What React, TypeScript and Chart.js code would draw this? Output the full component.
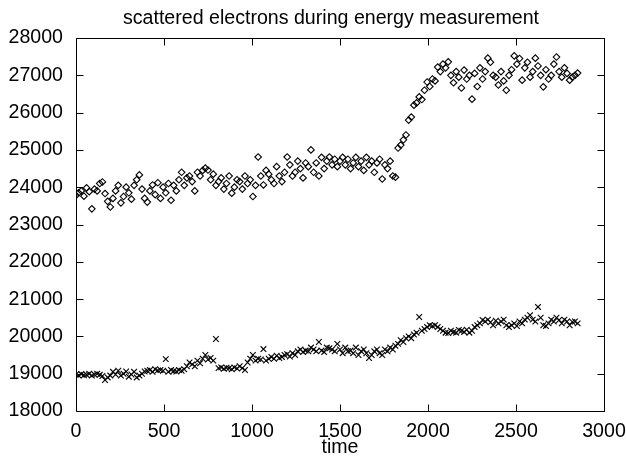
import React, { useEffect, useRef } from "react";
import { Chart, registerables } from "chart.js";

Chart.register(...registerables);

const TITLE = "scattered electrons during energy measurement";
const X_LABEL = "time";
const X_TICKS = [0, 500, 1000, 1500, 2000, 2500, 3000];
const Y_TICKS = [18000, 19000, 20000, 21000, 22000, 23000, 24000, 25000, 26000, 27000, 28000];

const times = [
  0, 15, 30, 45, 60, 75, 90, 105, 120, 135,
  150, 165, 180, 195, 210, 225, 240, 255, 270, 285,
  300, 315, 330, 345, 360, 375, 390, 405, 420, 435,
  450, 465, 480, 495, 510, 525, 540, 555, 570, 585,
  600, 615, 630, 645, 660, 675, 690, 705, 720, 735,
  750, 765, 780, 795, 810, 825, 840, 855, 870, 885,
  900, 915, 930, 945, 960, 975, 990, 1005, 1020, 1035,
  1050, 1065, 1080, 1095, 1110, 1125, 1140, 1155, 1170, 1185,
  1200, 1215, 1230, 1245, 1260, 1275, 1290, 1305, 1320, 1335,
  1350, 1365, 1380, 1395, 1410, 1425, 1440, 1455, 1470, 1485,
  1500, 1515, 1530, 1545, 1560, 1575, 1590, 1605, 1620, 1635,
  1650, 1665, 1680, 1695, 1710, 1725, 1740, 1755, 1770, 1785,
  1800, 1815, 1830, 1845, 1860, 1875, 1890, 1905, 1920, 1935,
  1950, 1965, 1980, 1995, 2010, 2025, 2040, 2055, 2070, 2085,
  2100, 2115, 2130, 2145, 2160, 2175, 2190, 2205, 2220, 2235,
  2250, 2265, 2280, 2295, 2310, 2325, 2340, 2355, 2370, 2385,
  2400, 2415, 2430, 2445, 2460, 2475, 2490, 2505, 2520, 2535,
  2550, 2565, 2580, 2595, 2610, 2625, 2640, 2655, 2670, 2685,
  2700, 2715, 2730, 2745, 2760, 2775, 2790, 2805, 2820, 2835,
  2850,
];

// diamonds (upper series)
const upperSeries = [
  23780, 23850, 23900, 23760, 23980, 23880, 23420, 23950, 23900, 24100,
  24140, 23830, 23620, 23470, 23700, 23900, 24050, 23580, 23750, 24000,
  23850, 23680, 24050, 24200, 24330, 23950, 23700, 23600, 23900, 24060,
  23800, 24120, 23700, 24000, 23850, 24100, 23650, 24050, 23900, 24200,
  24400, 24050, 24250, 24300, 24150, 23900, 24400, 24300, 24450, 24510,
  24460, 24200, 24350, 24050, 24150, 24250, 23950, 24100, 24300, 23840,
  24000, 24200, 24150, 23950, 24300, 24100, 24200, 23750, 24050, 24810,
  24300, 24060, 24450, 24350, 24200, 24100, 24550, 24300, 24150, 24400,
  24810, 24600, 24300, 24400, 24700, 24500, 24250, 24650, 24550, 25000,
  24400, 24650, 24300, 24800, 24500, 24700, 24810, 24600, 24750, 24550,
  24700, 24800, 24600, 24750, 24500, 24650, 24800, 24550, 24700, 24450,
  24800, 24600, 24700, 24400, 24650, 24750, 24220, 24600, 24500, 24700,
  24300, 24270, 25050, 25130, 25270, 25400, 25800, 25880, 26200, 26260,
  26420, 26350, 26600, 26820, 26700, 26900, 26850, 27220, 27100, 27300,
  27200, 27360, 27000, 26800, 27100, 26950, 26660, 27140, 26900, 27000,
  26360, 27050, 26700, 27200, 26900, 27100, 27460, 27350, 27000, 26950,
  26740, 27100, 26850, 26600, 27000, 27150, 27520, 27300, 27450, 26870,
  27200, 27350, 26950, 27100, 27460, 27250, 27000, 26690, 27150, 26900,
  27000, 27300, 27490, 27100, 26950, 27200, 27050, 26870, 26950, 27000,
  27060,
];

// crosses (lower series)
const lowerSeries = [
  18980, 18950, 18990, 18960, 18970, 19000, 18950, 18980, 19000, 18970,
  18940, 18830, 18900, 18950, 19050, 18980, 19080, 18950, 19000, 19060,
  18920, 18980, 19050, 18900, 18950, 19000, 19060, 19080, 19100, 19050,
  19120, 19090, 19100, 19080, 19390, 19050, 19100, 19070, 19060, 19100,
  19080, 19120, 19200, 19300, 19250, 19200, 19350, 19280, 19400, 19500,
  19380, 19420, 19350, 19930, 19150, 19170, 19130, 19160, 19150, 19120,
  19170, 19140, 19200, 19150, 19100, 19300, 19400, 19500, 19350, 19400,
  19380, 19660, 19350, 19400, 19450, 19400, 19480, 19420, 19450, 19500,
  19520, 19460, 19550, 19500, 19600, 19650, 19580, 19620, 19600, 19700,
  19650, 19600, 19850, 19620, 19580, 19700, 19680, 19650, 19600, 19800,
  19650, 19550, 19700, 19600, 19620, 19550, 19700, 19500, 19600, 19650,
  19550, 19420, 19500, 19600, 19650, 19550, 19500, 19650, 19600, 19700,
  19650, 19750, 19800, 19900, 19850, 19950, 20000, 19950, 20050, 20100,
  20520, 20150, 20200, 20250, 20300, 20280, 20300, 20250, 20200, 20150,
  20100, 20090, 20150, 20120, 20100, 20170, 20150, 20120, 20180, 20100,
  20150, 20250, 20300, 20350, 20440, 20400, 20450, 20380, 20300, 20420,
  20350, 20400, 20450, 20300, 20250, 20300, 20350, 20280, 20400, 20350,
  20450, 20500, 20570, 20450, 20400, 20790, 20500, 20300, 20280, 20350,
  20450, 20400, 20500, 20440, 20350, 20450, 20400, 20300, 20390, 20400,
  20350,
];

const FONT = "'Liberation Sans', Arial, Helvetica, sans-serif";

const framePlugin = {
  id: "gnuplotFrame",
  afterDraw(chart: any) {
    const { ctx, chartArea } = chart;
    const xs = chart.scales.x;
    const ys = chart.scales.y;
    const L = Math.round(chartArea.left) + 0.5;
    const R = Math.round(chartArea.right) + 0.5;
    const T = Math.round(chartArea.top) + 0.5;
    const B = Math.round(chartArea.bottom) + 0.5;
    const tl = 7;
    ctx.save();
    ctx.strokeStyle = "#000";
    ctx.lineWidth = 1;
    ctx.beginPath();
    ctx.rect(L, T, R - L, B - T);
    for (const v of X_TICKS) {
      const px = Math.round(xs.getPixelForValue(v)) + 0.5;
      ctx.moveTo(px, B);
      ctx.lineTo(px, B - tl);
      ctx.moveTo(px, T);
      ctx.lineTo(px, T + tl);
    }
    for (const v of Y_TICKS) {
      const py = Math.round(ys.getPixelForValue(v)) + 0.5;
      ctx.moveTo(L, py);
      ctx.lineTo(L + tl, py);
      ctx.moveTo(R, py);
      ctx.lineTo(R - tl, py);
    }
    ctx.stroke();
    ctx.fillStyle = "#000";
    ctx.font = `19.6px ${FONT}`;
    ctx.textAlign = "center";
    ctx.textBaseline = "middle";
    ctx.fillText(TITLE, 331, 19);
    ctx.restore();
  },
};

export default function App() {
  const ref = useRef<HTMLCanvasElement | null>(null);
  useEffect(() => {
    if (!ref.current) return;
    const upper = times.map((t, i) => ({ x: t, y: upperSeries[i] }));
    const lower = times.map((t, i) => ({ x: t, y: lowerSeries[i] }));
    const chart = new Chart(ref.current, {
      type: "scatter",
      data: {
        datasets: [
          {
            label: "upper",
            data: upper,
            pointStyle: "rectRot",
            pointRadius: 3.3,
            borderColor: "#000",
            backgroundColor: "rgba(255,255,255,0)",
            borderWidth: 1.1,
          },
          {
            label: "lower",
            data: lower,
            pointStyle: "crossRot",
            pointRadius: 4,
            borderColor: "#000",
            backgroundColor: "#000",
            borderWidth: 1.1,
          },
        ],
      },
      options: {
        responsive: false,
        animation: false,
        events: [],
        layout: { padding: { top: 38, right: 22, left: 0, bottom: 0 } },
        plugins: {
          legend: { display: false },
          title: { display: false },
          tooltip: { enabled: false },
        },
        scales: {
          x: {
            type: "linear",
            min: 0,
            max: 3000,
            afterFit: (s: any) => {
              s.height = 48;
              s.paddingLeft = 0;
              s.paddingRight = 0;
            },
            afterBuildTicks: (s: any) => {
              s.ticks = X_TICKS.map((v) => ({ value: v }));
            },
            grid: { display: false, drawTicks: false },
            border: { display: false },
            ticks: {
              color: "#000",
              padding: 9,
              maxRotation: 0,
              font: { family: FONT, size: 19.6 },
              callback: (v: any) => String(v),
            },
            title: {
              display: true,
              text: X_LABEL,
              color: "#000",
              padding: { top: 0, bottom: 0 },
              font: { family: FONT, size: 19.6 },
            },
          },
          y: {
            type: "linear",
            min: 18000,
            max: 28000,
            afterFit: (s: any) => {
              s.width = 76;
            },
            afterBuildTicks: (s: any) => {
              s.ticks = Y_TICKS.map((v) => ({ value: v }));
            },
            grid: { display: false, drawTicks: false },
            border: { display: false },
            ticks: {
              color: "#000",
              padding: 13,
              font: { family: FONT, size: 19.6 },
              callback: (v: any) => String(v),
            },
          },
        },
      },
      plugins: [framePlugin],
    });
    return () => chart.destroy();
  }, []);
  return (
    <div style={{ position: "absolute", left: 0, top: 0, width: 626, height: 459, background: "#fff" }}>
      <canvas ref={ref} width={626} height={459} style={{ display: "block", width: 626, height: 459 }} />
    </div>
  );
}
